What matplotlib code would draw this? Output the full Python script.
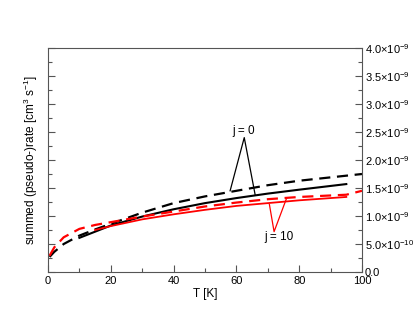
import matplotlib
matplotlib.use("Agg")
import matplotlib.pyplot as plt
from matplotlib.ticker import MultipleLocator, FuncFormatter

plt.rcParams["font.family"] = ["Liberation Sans", "DejaVu Sans"]
plt.rcParams["mathtext.fontset"] = "custom"
plt.rcParams["mathtext.rm"] = "Liberation Sans"
plt.rcParams["mathtext.it"] = "Liberation Sans"

# data (rates in units of 1e-9 cm^3 s^-1)
t_j0_dash = [0.5, 2, 5, 10, 15, 20, 30, 40, 50, 60, 70, 80, 90, 100]
r_j0_dash = [0.27, 0.36, 0.50, 0.65, 0.76, 0.86, 1.06, 1.23, 1.35, 1.45, 1.55, 1.63, 1.69, 1.75]

t_j0_solid = [10, 15, 20, 30, 40, 50, 60, 70, 80, 95]
r_j0_solid = [0.61, 0.72, 0.83, 0.99, 1.12, 1.23, 1.32, 1.40, 1.47, 1.57]

t_j10_dash = [0.5, 2, 5, 10, 15, 20, 30, 40, 50, 60, 70, 80, 95, 100]
r_j10_dash = [0.29, 0.44, 0.62, 0.77, 0.84, 0.89, 0.99, 1.08, 1.17, 1.24, 1.30, 1.34, 1.38, 1.45]

t_j10_solid = [15, 20, 30, 40, 50, 60, 70, 80, 95]
r_j10_solid = [0.75, 0.82, 0.94, 1.03, 1.11, 1.18, 1.23, 1.28, 1.34]

scale = 1e-9

fig = plt.figure(figsize=(4.15, 3.21), dpi=100)
ax = fig.add_axes([48 / 415, 1 - 272 / 321, 314 / 415, 224 / 321])

ax.plot(t_j0_dash, [v * scale for v in r_j0_dash], color="black", lw=1.6, ls=(0, (5, 3)))
ax.plot(t_j0_solid, [v * scale for v in r_j0_solid], color="black", lw=1.5)
ax.plot(t_j10_dash, [v * scale for v in r_j10_dash], color="red", lw=1.6, ls=(0, (5, 3)))
ax.plot(t_j10_solid, [v * scale for v in r_j10_solid], color="red", lw=1.3)

# annotations
ax.text(62.3, 2.52e-9, "j = 0", fontsize=8.5, ha="center", va="center")
ax.plot([58, 62.5, 66], [1.45e-9, 2.4e-9, 1.37e-9], color="black", lw=0.9)
ax.text(73.5, 0.62e-9, "j = 10", fontsize=8.5, ha="center", va="center")
ax.plot([70.5, 72, 76], [1.21e-9, 0.72e-9, 1.32e-9], color="red", lw=0.9)

ax.set_xlim(0, 100)
ax.set_ylim(0, 4e-9)
ax.xaxis.set_major_locator(MultipleLocator(20))
ax.xaxis.set_minor_locator(MultipleLocator(10))
ax.yaxis.set_major_locator(MultipleLocator(0.5e-9))
ax.yaxis.set_minor_locator(MultipleLocator(0.25e-9))


def fmt(v, pos):
    if abs(v) < 1e-15:
        return "0.0"
    if v < 1e-9 - 1e-15:
        return r"%.1f$\times$10$^{-10}$" % (v * 1e10)
    return r"%.1f$\times$10$^{-9}$" % (v * 1e9)


ax.yaxis.set_major_formatter(FuncFormatter(fmt))
ax.tick_params(axis="y", which="both", direction="in", left=True, right=True,
               labelleft=False, labelright=True, labelsize=8, pad=2)
ax.tick_params(axis="x", which="both", direction="in", top=False, labelsize=8, pad=3)
ax.tick_params(which="major", length=5, width=0.8, color="#555555")
ax.tick_params(which="minor", length=3, width=0.8, color="#555555")
for s in ax.spines.values():
    s.set_color("#555555")

ax.set_xlabel("T [K]", fontsize=8.5, labelpad=1)
ax.set_ylabel(r"summed (pseudo-)rate [cm$^3$ s$^{-1}$]", fontsize=8.5, labelpad=6)

fig.savefig("out.png", dpi=100)
